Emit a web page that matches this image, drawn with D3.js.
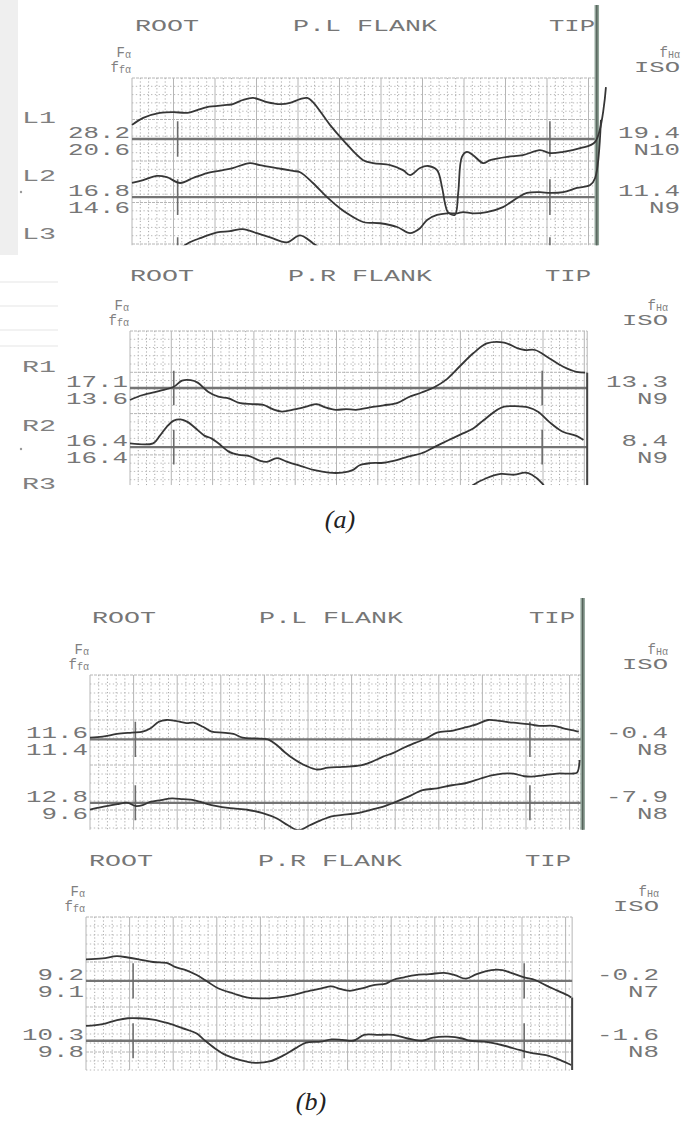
<!DOCTYPE html>
<html>
<head>
<meta charset="utf-8">
<script src="https://cdn.jsdelivr.net/npm/d3@7"></script>
<style>
    body { margin: 0; background: #fff; }
    svg { display: block; }
    text { font-family: "Liberation Mono", "DejaVu Sans Mono", monospace; fill: #767676; }
</style>
</head>
<body>
<script>
const largeur = 684, hauteur = 1121;

// profile traces: [roll position (grid divisions), deviation (µm, 10 per division)]
const traceL1 = [[0,3.4],[0.27,5.1],[0.67,6.3],[0.99,6.5],[1.33,6.3],[1.64,7.2],[1.81,7.7],[2.29,8.2],[2.43,8.4],[2.67,9.4],[2.92,9.9],[3.25,8.9],[3.57,8.4],[3.81,8.7],[4.05,9.6],[4.22,9.9],[4.36,8.9],[4.77,3.4],[5.08,-0.2],[5.57,-5.1],[5.81,-5.8],[6.22,-6.3],[6.53,-7.5],[6.70,-8.7],[6.94,-7.0],[7.13,-6.5],[7.35,-7.5],[7.47,-11.6],[7.54,-15.4],[7.61,-17.6],[7.78,-18.3],[7.86,-13.0],[7.95,-4.3],[8.07,-3.1],[8.22,-3.9],[8.46,-5.8],[8.63,-5.1],[9.04,-4.3],[9.42,-3.9],[9.83,-2.7],[10.07,-3.4],[10.39,-3.1],[10.80,-2.2],[11.16,-0.7],[11.42,12.5]];
const traceL2 = [[0,3.4],[0.27,4.1],[0.60,5.1],[0.84,4.8],[1.16,3.4],[1.47,4.6],[1.81,5.8],[2.19,6.5],[2.43,7.0],[2.84,8.2],[3.08,7.7],[3.49,7.0],[3.88,6.3],[4.05,6.0],[4.36,3.4],[4.70,0],[5.01,-2.7],[5.18,-3.9],[5.57,-6.0],[5.98,-6.3],[6.39,-7.2],[6.70,-8.7],[6.94,-7.5],[7.11,-5.5],[7.35,-4.3],[7.59,-3.9],[7.83,-3.9],[7.98,-3.6],[8.22,-3.9],[8.55,-3.6],[8.94,-2.4],[9.28,-0.2],[9.52,1.0],[9.83,1.2],[10.07,1.0],[10.39,1.2],[10.72,2.2],[11.04,2.9],[11.16,4.6],[11.30,18.6]];
const traceL3 = [[1.2,1.9],[1.35,2.9],[1.64,4.1],[2.05,5.5],[2.36,5.8],[2.67,6.3],[3.01,5.3],[3.33,4.3],[3.73,3.1],[4.05,4.8],[4.36,2.9],[4.53,1.7]];

const traceR1 = [[0,-2.9],[0.31,-1.7],[0.72,-0.7],[1.06,0.3],[1.26,1.8],[1.47,1.9],[1.64,1.3],[1.89,-0.9],[2.14,-2.1],[2.39,-2.5],[2.64,-3.6],[2.97,-3.9],[3.23,-4.1],[3.47,-5.2],[3.68,-5.7],[3.98,-5.2],[4.31,-4.4],[4.52,-3.9],[4.73,-4.7],[4.98,-5.3],[5.23,-5.1],[5.47,-5.3],[5.81,-4.7],[6.14,-4.2],[6.48,-3.6],[6.73,-2.3],[7.06,-1.1],[7.39,0.3],[7.64,1.9],[7.98,5.2],[8.31,8.4],[8.64,10.8],[9.06,11.0],[9.39,9.6],[9.56,9.2],[9.81,9.2],[10.15,7.2],[10.48,5.2],[10.81,3.9],[11.02,3.7]];
const traceR2 = [[0,0.9],[0.56,0.9],[0.72,2.7],[0.89,4.9],[1.06,6.4],[1.22,6.7],[1.39,6.1],[1.64,4.1],[1.81,2.7],[1.97,2.1],[2.14,0.9],[2.39,-1.1],[2.64,-1.9],[2.89,-2.2],[3.14,-3.3],[3.31,-3.6],[3.56,-2.7],[3.81,-3.6],[4.14,-4.6],[4.47,-5.6],[4.81,-6.2],[5.14,-6.2],[5.39,-5.6],[5.56,-4.4],[5.81,-3.9],[6.14,-3.8],[6.48,-3.1],[6.73,-2.3],[7.06,-1.5],[7.39,0.1],[7.72,1.7],[8.06,3.3],[8.31,4.5],[8.56,6.5],[8.89,9.0],[9.06,9.8],[9.31,9.9],[9.64,9.6],[9.89,8.5],[10.15,6.1],[10.48,3.7],[10.81,2.7],[10.98,1.7]];
const traceR3 = [[8.11,3.1],[8.31,4.8],[8.64,6.5],[8.98,7.5],[9.31,7.3],[9.56,7.8],[9.73,7.3],[9.98,5.2],[10.12,3.1]];

const traceBL1 = [[0,0.4],[0.29,0.6],[0.62,1.2],[0.96,1.5],[1.21,1.7],[1.38,2.4],[1.58,3.9],[1.75,4.3],[1.96,4.1],[2.21,3.6],[2.38,3.7],[2.59,2.8],[2.79,1.7],[3.04,1.5],[3.29,1.2],[3.50,0.4],[3.79,0.2],[4.08,0],[4.29,-1.3],[4.46,-2.8],[4.71,-4.6],[4.96,-5.9],[5.21,-6.7],[5.46,-6.3],[5.79,-6.1],[6.21,-5.8],[6.46,-5.0],[6.71,-3.9],[6.96,-3.0],[7.21,-1.8],[7.46,-0.8],[7.71,0.2],[7.96,1.5],[8.30,1.9],[8.63,2.7],[8.88,3.4],[9.13,4.3],[9.38,4.1],[9.71,3.7],[10.05,3.4],[10.30,3.0],[10.63,3.0],[10.88,2.4],[11.13,1.9],[11.21,1.7]];
const traceBL2 = [[0,-1.5],[0.29,-0.9],[0.62,-0.3],[0.87,0],[1.04,-0.7],[1.21,-0.5],[1.38,0.2],[1.63,0.6],[1.88,1.0],[2.13,0.8],[2.38,0.6],[2.63,-0.1],[2.88,-0.7],[3.21,-1.2],[3.63,-1.6],[3.96,-2.3],[4.29,-3.5],[4.54,-5.0],[4.79,-6.1],[5.04,-5.0],[5.29,-3.9],[5.54,-3.0],[5.79,-2.7],[6.13,-2.3],[6.46,-1.5],[6.71,-0.9],[6.96,0],[7.29,1.3],[7.63,2.8],[7.96,3.2],[8.30,3.9],[8.63,4.4],[8.96,5.4],[9.21,6.1],[9.46,6.5],[9.71,6.5],[9.96,5.9],[10.13,5.8],[10.38,6.1],[10.71,6.5],[11.05,6.5],[11.17,6.7],[11.23,9.5]];

const traceBR1 = [[0,4.8],[0.38,5.0],[0.71,5.5],[0.96,5.2],[1.21,4.8],[1.54,4.2],[1.88,3.9],[2.04,3.1],[2.29,2.4],[2.54,1.3],[2.79,-0.2],[3.04,-1.7],[3.38,-2.8],[3.71,-3.7],[4.04,-3.9],[4.38,-3.7],[4.71,-3.2],[5.04,-2.4],[5.38,-1.7],[5.63,-1.2],[5.80,-1.7],[6.05,-2.2],[6.30,-1.7],[6.63,-0.9],[6.88,-0.6],[7.04,0.2],[7.30,0.8],[7.55,1.3],[7.88,1.5],[8.21,1.8],[8.46,1.3],[8.71,0.5],[8.96,1.5],[9.30,2.4],[9.55,2.4],[9.80,1.6],[10.05,0.8],[10.30,0.2],[10.55,-1.0],[10.80,-2.1],[11.05,-3.2],[11.13,-3.7]];
const traceBR2 = [[0,3.3],[0.38,3.7],[0.71,4.6],[0.96,5.0],[1.21,5.0],[1.54,4.7],[1.88,3.9],[2.21,2.8],[2.54,1.6],[2.71,0.2],[2.96,-1.7],[3.21,-3.2],[3.54,-4.3],[3.88,-4.9],[4.21,-4.6],[4.54,-3.2],[4.80,-1.7],[5.05,-0.4],[5.38,-0.2],[5.63,0.3],[5.88,0.2],[6.13,0],[6.38,1.3],[6.71,1.3],[7.05,1.3],[7.38,0.5],[7.71,0],[7.96,0.7],[8.30,0.9],[8.63,0.5],[8.80,0],[9.13,-0.2],[9.55,-1.0],[9.96,-2.1],[10.21,-2.7],[10.55,-3.2],[10.88,-4.3],[11.13,-5.4]];

// reference level of each trace (µm below grid top)
const aPlBase = [14.7, 28.7, 42.7];
const aPrBase = [13.8, 28.1, 42.1];
const bPlBase = [14.3, 28.4];
const bPrBase = [14.2, 27.5];

// row names and read-outs
const aPlNames = ["L1", "L2", "L3"];
const aPrNames = ["R1", "R2", "R3"];
const aPlFa = ["28.2", "16.8"], aPlFfa = ["20.6", "14.6"], aPlFha = ["19.4", "11.4"], aPlIso = ["N10", "N9"];
const aPrFa = ["17.1", "16.4"], aPrFfa = ["13.6", "16.4"], aPrFha = ["13.3", "8.4"], aPrIso = ["N9", "N9"];
const bPlFa = ["11.6", "12.8"], bPlFfa = ["11.4", "9.6"], bPlFha = ["-0.4", "-7.9"], bPlIso = ["N8", "N8"];
const bPrFa = ["9.2", "10.3"], bPrFfa = ["9.1", "9.8"], bPrFha = ["-0.2", "-1.6"], bPrIso = ["N7", "N8"];

// evaluation range markers (grid divisions)
const aPlMarks = [1.1, 10.07], aPrMarks = [1.06, 9.98], bPlMarks = [1.04, 10.09], bPrMarks = [1.08, 10.05];

const svgSpace = d3.select("body").append("svg")
    .attr("width", largeur)
    .attr("height", hauteur);

// scan shading and specks on the left of figure (a)
svgSpace.append("rect").attr("x", 0).attr("y", 0).attr("width", 18).attr("height", 255).attr("fill", "#efefef");
svgSpace.append("g").selectAll("line")
    .data([282, 306, 330, 346])
    .enter()
    .append("line")
    .attr("x1", 0).attr("x2", 58)
    .attr("y1", d => d).attr("y2", d => d)
    .attr("stroke", "#e6e6e6").attr("stroke-width", 1.2);
svgSpace.append("g").selectAll("circle")
    .data([192, 449])
    .enter()
    .append("circle")
    .attr("cx", 21).attr("cy", d => d).attr("r", 1.2)
    .attr("fill", "#999");

const panels = [
    {id: "a1", flank: "P.L FLANK", left: 132, top: 78, cw: 41.5, ch: 41.5, cols: 11.2, rows: 4.03, headY: 25,
        rootX: 167, flankX: 365, tipX: 572, rightX: 680, names: aPlNames, base: aPlBase,
        traces: [traceL1, traceL2, traceL3], fa: aPlFa, ffa: aPlFfa, fha: aPlFha, iso: aPlIso, marks: aPlMarks, markLen: 4.3, bar: 73},
    {id: "a2", flank: "P.R FLANK", left: 130, top: 331, cw: 41.3, ch: 41.3, cols: 11.07, rows: 3.73, headY: 275,
        rootX: 162, flankX: 360, tipX: 568, rightX: 668, names: aPrNames, base: aPrBase,
        traces: [traceR1, traceR2, traceR3], fa: aPrFa, ffa: aPrFfa, fha: aPrFha, iso: aPrIso, marks: aPrMarks, markLen: 4.2, endDrop: true},
    {id: "b1", flank: "P.L FLANK", left: 90, top: 675, cw: 43.6, ch: 45, cols: 11.3, rows: 3.44, headY: 617,
        rootX: 124, flankX: 331, tipX: 552, rightX: 668, names: null, base: bPlBase,
        traces: [traceBL1, traceBL2], fa: bPlFa, ffa: bPlFfa, fha: bPlFha, iso: bPlIso, marks: bPlMarks, markLen: 3.9, bar: 77},
    {id: "b2", flank: "P.R FLANK", left: 86, top: 917, cw: 43.6, ch: 45, cols: 11.15, rows: 3.4, headY: 860,
        rootX: 121, flankX: 330, tipX: 548, rightX: 659, names: null, base: bPrBase,
        traces: [traceBR1, traceBR2], fa: bPrFa, ffa: bPrFfa, fha: bPrFha, iso: bPrIso, marks: bPrMarks, markLen: 3.9, endDrop: true}
];

panels.forEach(drawPanel);

addText(svgSpace, "(a)", 340, 528, "middle", 26)
    .style("font-family", "'Liberation Serif', serif").style("font-style", "italic").style("fill", "#222");
addText(svgSpace, "(b)", 311, 1110, "middle", 26)
    .style("font-family", "'Liberation Serif', serif").style("font-style", "italic").style("fill", "#222");

function drawPanel(p) {
    const g = svgSpace.append("g").attr("class", "panel-" + p.id);

    const x = d3.scaleLinear().domain([0, p.cols]).range([p.left, p.left + p.cols * p.cw]);
    const y = d3.scaleLinear().domain([0, p.rows * 10]).range([p.top, p.top + p.rows * p.ch]);
    const x0 = x(0), x1 = x(p.cols), y0 = y(0), y1 = y(p.rows * 10);

    // dotted minor grid, 5 per division
    const minorX = d3.range(1, Math.floor(p.cols * 5) + 1).filter(i => i % 5 !== 0).map(i => i / 5);
    const minorY = d3.range(1, Math.floor(p.rows * 5) + 1).filter(i => i % 5 !== 0).map(i => i * 2);

    g.append("g").selectAll("line")
        .data(minorX)
        .enter()
        .append("line")
        .attr("x1", d => x(d)).attr("x2", d => x(d))
        .attr("y1", y0).attr("y2", y1)
        .attr("stroke", "#a9a9a9")
        .attr("stroke-width", 1)
        .attr("stroke-dasharray", "1.2,2.2");

    g.append("g").selectAll("line")
        .data(minorY)
        .enter()
        .append("line")
        .attr("x1", x0).attr("x2", x1)
        .attr("y1", d => y(d)).attr("y2", d => y(d))
        .attr("stroke", "#bababa")
        .attr("stroke-width", 1)
        .attr("stroke-dasharray", "1.4,2.4");

    // major grid
    g.append("g").selectAll("line")
        .data(d3.range(0, Math.floor(p.cols) + 1).concat([p.cols]))
        .enter()
        .append("line")
        .attr("x1", d => x(d)).attr("x2", d => x(d))
        .attr("y1", y0).attr("y2", y1)
        .attr("stroke", "#b6b6b6")
        .attr("stroke-width", 1);

    g.append("g").selectAll("line")
        .data(d3.range(0, Math.floor(p.rows) + 1))
        .enter()
        .append("line")
        .attr("x1", x0).attr("x2", x1)
        .attr("y1", d => y(d * 10)).attr("y2", d => y(d * 10))
        .attr("stroke", "#b6b6b6")
        .attr("stroke-width", 1)
        .attr("stroke-dasharray", "3,1");

    // reference lines
    g.append("g").selectAll("line")
        .data(p.base.filter(b => b < p.rows * 10))
        .enter()
        .append("line")
        .attr("x1", x0).attr("x2", x1)
        .attr("y1", d => y(d)).attr("y2", d => y(d))
        .attr("stroke", "#747474")
        .attr("stroke-width", 2.3);

    // evaluation markers
    const markData = [];
    p.base.forEach(b => p.marks.forEach(m => markData.push({b: b, m: m})));
    const clipId = "clip-" + p.id;
    g.append("clipPath").attr("id", clipId)
        .append("rect")
        .attr("x", x0 - 2).attr("y", y0)
        .attr("width", x1 - x0 + 20).attr("height", y1 - y0);

    g.append("g").attr("clip-path", "url(#" + clipId + ")")
        .selectAll("line")
        .data(markData)
        .enter()
        .append("line")
        .attr("x1", d => x(d.m)).attr("x2", d => x(d.m))
        .attr("y1", d => y(d.b - p.markLen)).attr("y2", d => y(d.b + p.markLen))
        .attr("stroke", "#6c6c6c")
        .attr("stroke-width", 1.6);

    // right bar reaching up to the header
    if (p.bar) {
        g.append("line")
            .attr("x1", x1).attr("x2", x1)
            .attr("y1", y0 - p.bar).attr("y2", y1)
            .attr("stroke", "#8fa297").attr("stroke-width", 4.5);
        g.append("line")
            .attr("x1", x1).attr("x2", x1)
            .attr("y1", y0 - p.bar).attr("y2", y1)
            .attr("stroke", "#56625b").attr("stroke-width", 1.4);
    }

    // traces
    const line = d3.line()
        .curve(d3.curveCatmullRom.alpha(0.5))
        .x(d => x(d[0]))
        .y(d => y(d.b - d[1]));

    g.append("g").attr("clip-path", "url(#" + clipId + ")")
        .selectAll("path")
        .data(p.traces.map((t, i) => t.map(d => Object.assign([d[0], d[1]], {b: p.base[i]}))))
        .enter()
        .append("path")
        .attr("d", line)
        .attr("fill", "none")
        .attr("stroke", "#363636")
        .attr("stroke-width", 1.8)
        .attr("stroke-linejoin", "round");

    if (p.endDrop) {
        const last = p.traces[0][p.traces[0].length - 1];
        g.append("line")
            .attr("x1", x1).attr("x2", x1)
            .attr("y1", y(p.base[0] - last[1])).attr("y2", y1)
            .attr("stroke", "#444").attr("stroke-width", 2);
    }

    // header
    addText(g, "ROOT", p.rootX, p.headY + 6, "middle", 16, 64);
    addText(g, p.flank, p.flankX, p.headY + 6, "middle", 16, 144);
    addText(g, "TIP", p.tipX, p.headY + 6, "middle", 16, 46);

    addSub(g, "F", "α", x0 - 1, y0 - 21, "end");
    addSub(g, "f", "fα", x0 - 1, y0 - 6, "end");
    addSub(g, "f", "Hα", p.rightX, y0 - 21, "end");
    addText(g, "ISO", p.rightX, y0 - 6, "end", 14, 46);

    // row read-outs
    p.fa.forEach((v, i) => {
        const r = y(p.base[i]);
        addText(g, v, x0 - 2, r - 1, "end", 16, v.length * 15.5);
        addText(g, p.ffa[i], x0 - 2, r + 16, "end", 16, p.ffa[i].length * 15.5);
        addText(g, p.fha[i], p.rightX, r - 1, "end", 16, p.fha[i].length * 15.5);
        addText(g, p.iso[i], p.rightX, r + 16, "end", 16, p.iso[i].length * 15.5);
    });
    if (p.names) {
        p.names.forEach((n, i) => {
            addText(g, n, 22, y(p.base[i]) - 16, "start", 16, 34).style("fill", "#808080");
        });
    }
}

function addSub(g, main, sub, x, y, anchor) {
    const t = g.append("text")
        .attr("x", x)
        .attr("y", y)
        .attr("text-anchor", anchor)
        .style("font-size", "14px")
        .style("fill", "#808080");
    t.append("tspan").text(main);
    t.append("tspan").text(sub).style("font-size", "10px").attr("dy", 1);
    return t;
}

function addText(g, txt, x, y, anchor, size, len) {
    const t = g.append("text")
        .text(txt)
        .attr("x", x)
        .attr("y", y)
        .attr("text-anchor", anchor)
        .style("font-size", size + "px");
    if (len) t.attr("textLength", len).attr("lengthAdjust", "spacingAndGlyphs");
    return t;
}
</script>
</body>
</html>
